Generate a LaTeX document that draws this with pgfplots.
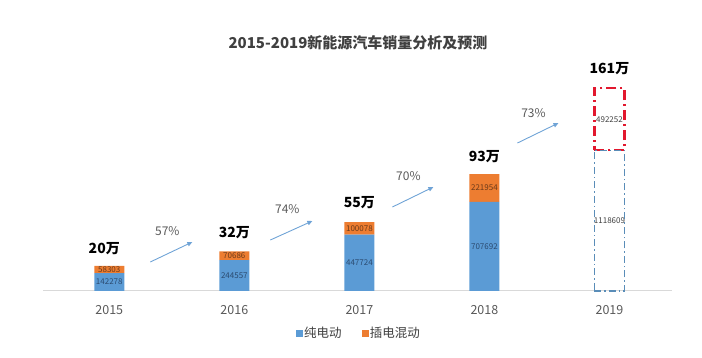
\documentclass[border=0pt]{standalone}
\usepackage{pgfplots}
\pgfplotsset{compat=1.18}
\usetikzlibrary{arrows.meta}
\usepackage{fontspec}
\setmainfont{Noto Sans CJK SC}
\definecolor{cblue}{HTML}{5B9BD5}
\definecolor{corange}{HTML}{ED7D31}
\definecolor{cred}{HTML}{E2182E}
\definecolor{cdblue}{HTML}{5A8DB8}
\definecolor{tgray}{HTML}{595959}
\definecolor{ttitle}{HTML}{404040}
\definecolor{inblue}{HTML}{2B4A6F}
\definecolor{inorange}{HTML}{6B3A1A}
\definecolor{arrowc}{HTML}{6FA3D6}
\tikzset{
  seglab/.style={font=\fontsize{8}{9}\selectfont, inner sep=0pt},
  totlab/.style={font=\bfseries\fontsize{14}{16}\selectfont, inner sep=0pt, text=black},
  garrow/.style={draw=arrowc, line width=0.9pt, -{Triangle[length=5pt,width=4.5pt]}},
  pct/.style={font=\fontsize{12}{14}\selectfont, inner sep=0pt, text=tgray},
}
\begin{document}
\begin{tikzpicture}[x=1pt,y=1pt]
\useasboundingbox (0,0) rectangle (702,358);
\begin{axis}[
  at={(43pt,67pt)}, anchor=south west, scale only axis,
  width=629pt, height=226.5pt,
  xmin=-0.53, xmax=4.5, ymin=0, ymax=1800000,
  ybar stacked, bar width=30pt,
  axis x line*=bottom, axis y line*=left,
  y axis line style={draw=none},
  ytick=\empty,
  x axis line style={-, draw=black!15, line width=1pt},
  xtick={0,1,2,3,4}, xticklabels={2015,2016,2017,2018,2019},
  major tick length=0pt,
  xticklabel style={font=\fontsize{12.5}{14}\selectfont, text=tgray, yshift=-11pt},
  legend style={at={(axis description cs:0.502,-0.185)}, anchor=center, draw=none,
    legend columns=2, font=\fontsize{12.5}{14}\selectfont, text=ttitle,
    /tikz/every even column/.append style={column sep=18pt}},
  clip=false,
]
\addlegendimage{legend image code/.code={\fill[cblue] (2pt,-3pt) rectangle (8pt,3pt);}}
\addlegendentry{纯电动}
\addlegendimage{legend image code/.code={\fill[corange] (2pt,-3pt) rectangle (8pt,3pt);}}
\addlegendentry{插电混动}
\addplot[fill=cblue, draw=none, forget plot] coordinates {(0,142278) (1,244557) (2,447724) (3,707692)};
\addplot[fill=corange, draw=none, forget plot] coordinates {(0,58303) (1,70686) (2,100078) (3,221954)};
\end{axis}
\begin{axis}[
  at={(43pt,67pt)}, anchor=south west, scale only axis,
  width=629pt, height=226.5pt,
  xmin=-0.53, xmax=4.5, ymin=0, ymax=1800000,
  ybar stacked, bar width=30pt, hide axis, clip=false,
]
\addplot[draw=cdblue, fill=none, line width=1.4pt, dash pattern=on 7pt off 3pt on 1.5pt off 3pt] coordinates {(4,1118609)};
\addplot[draw=cred, fill=none, line width=2.4pt, dash pattern=on 10pt off 4pt on 2pt off 4pt] coordinates {(4,492252)};
\node[seglab,text=inblue] at (axis cs:0,71139) {142278};
\node[seglab,text=inblue] at (axis cs:1,122279) {244557};
\node[seglab,text=inblue] at (axis cs:2,223862) {447724};
\node[seglab,text=inblue] at (axis cs:3,353846) {707692};
\node[seglab,text=inorange] at (axis cs:0,171430) {58303};
\node[seglab,text=inorange] at (axis cs:1,279900) {70686};
\node[seglab,text=inorange] at (axis cs:2,497763) {100078};
\node[seglab,text=inorange] at (axis cs:3,818669) {221954};
\node[seglab,text=ttitle] at (axis cs:4,559305) {1118609};
\node[seglab,text=ttitle] at (axis cs:4,1364735) {492252};
\node[totlab,yshift=17pt] at (axis cs:-0.04,200581) {20万};
\node[totlab,yshift=19pt] at (axis cs:1,315243) {32万};
\node[totlab,yshift=19pt] at (axis cs:2.0,547802) {55万};
\node[totlab,yshift=17pt] at (axis cs:3,929646) {93万};
\node[totlab,yshift=20pt] at (axis cs:4,1610861) {161万};
\draw[garrow] (axis cs:0.328,230434) -- (axis cs:0.664,389354);
\draw[garrow] (axis cs:1.288,405246) -- (axis cs:1.624,556220);
\draw[garrow] (axis cs:2.264,667464) -- (axis cs:2.592,826384);
\draw[garrow] (axis cs:3.264,1176008) -- (axis cs:3.592,1334928);
\node[pct] at (axis cs:0.464,476760) {57\%};
\node[pct] at (axis cs:1.424,651572) {74\%};
\node[pct] at (axis cs:2.392,913790) {70\%};
\node[pct] at (axis cs:3.392,1414388) {73\%};
\end{axis}
\node[font=\bfseries\fontsize{15}{18}\selectfont, text=ttitle] at (358,315) {2015-2019新能源汽车销量分析及预测};
\end{tikzpicture}
\end{document}
